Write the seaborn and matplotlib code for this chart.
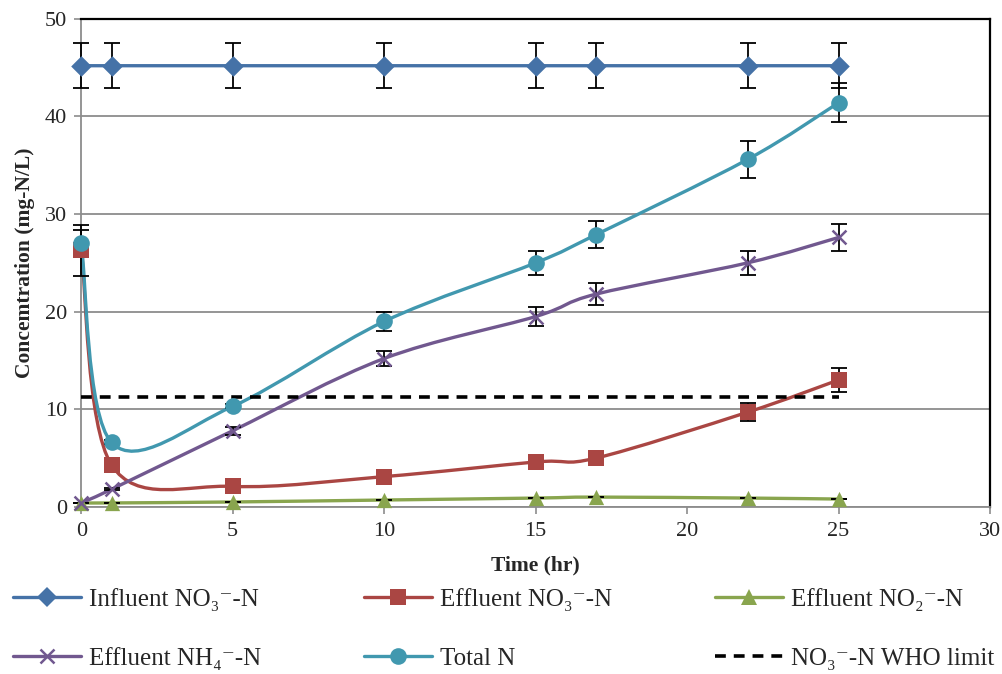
import numpy as np
import matplotlib
matplotlib.use("Agg")
import matplotlib.pyplot as plt
from matplotlib.path import Path
from matplotlib.patches import PathPatch
from matplotlib.lines import Line2D
import seaborn as sns

# data
time_hr = [0, 1, 5, 10, 15, 17, 22, 25]
influent_no3 = [45.2, 45.2, 45.2, 45.2, 45.2, 45.2, 45.2, 45.2]
influent_no3_err = [2.3, 2.3, 2.3, 2.3, 2.3, 2.3, 2.3, 2.3]
effluent_no3 = [26.3, 4.3, 2.1, 3.1, 4.6, 5.0, 9.7, 13.0]
effluent_no3_err = [2.6, 0.2, 0.2, 0.2, 0.2, 0.2, 0.95, 1.25]
effluent_no2 = [0.4, 0.4, 0.5, 0.7, 0.9, 1.0, 0.9, 0.8]
effluent_no2_err = [0, 0, 0, 0, 0, 0, 0, 0]
effluent_nh4 = [0.4, 1.8, 7.8, 15.2, 19.5, 21.8, 25.0, 27.6]
effluent_nh4_err = [0, 0.1, 0.4, 0.8, 1.0, 1.1, 1.2, 1.4]
total_n = [27.0, 6.6, 10.3, 19.0, 25.0, 27.9, 35.6, 41.4]
total_n_err = [1.4, 0.2, 0.2, 0.95, 1.2, 1.4, 1.9, 2.0]
who_limit = 11.3
who_x = [0, 25]

labels = ["Influent NO\u2083\u207b-N", "Effluent NO\u2083\u207b-N", "Effluent NO\u2082\u207b-N",
          "Effluent NH\u2084\u207b-N", "Total N", "NO\u2083\u207b-N WHO limit"]
colors = ["#4572A7", "#AA4643", "#89A54E", "#71588F", "#4198AF"]
markers = ["D", "s", "^", "x", "o"]
msizes = [10.5, 11, 11, 10, 12]

sns.set_style("white")
plt.rcParams["font.family"] = ["Liberation Serif", "DejaVu Serif"]


def smooth_path(x, y):
    """ Excel style smoothed line (Catmull-Rom as cubic Bezier) """
    pts = np.column_stack([x, y]).astype(float)
    n = len(pts)
    verts = [pts[0]]
    codes = [Path.MOVETO]
    for i in range(n - 1):
        p0 = pts[max(i - 1, 0)]
        p1 = pts[i]
        p2 = pts[i + 1]
        p3 = pts[min(i + 2, n - 1)]
        verts += [p1 + (p2 - p0) / 6, p2 - (p3 - p1) / 6, p2]
        codes += [Path.CURVE4] * 3
    return Path(verts, codes)


fig = plt.figure(figsize=(10.03, 6.74), dpi=100)
ax = fig.add_axes([0.081, 0.248, 0.906, 0.724])

series = [influent_no3, effluent_no3, effluent_no2, effluent_nh4, total_n]
errors = [influent_no3_err, effluent_no3_err, effluent_no2_err, effluent_nh4_err, total_n_err]

for k, (vals, errs) in enumerate(zip(series, errors)):
    ax.add_patch(PathPatch(smooth_path(time_hr, vals), facecolor="none",
                           edgecolor=colors[k], lw=2.4, zorder=3, capstyle="round"))
    eb = ax.errorbar(time_hr, vals, yerr=errs, fmt="none", ecolor="black",
                     elinewidth=1.3, capsize=5.5, capthick=1.3, zorder=4)
    for art in eb.lines[1] + eb.lines[2]:
        art.set_clip_on(False)
    if markers[k] == "x":
        sns.scatterplot(x=time_hr, y=vals, ax=ax, marker="x", s=msizes[k] ** 2,
                        color=colors[k], linewidth=1.8, zorder=5, legend=False, clip_on=False)
    else:
        sns.scatterplot(x=time_hr, y=vals, ax=ax, marker=markers[k], s=msizes[k] ** 2,
                        color=colors[k], edgecolor=colors[k], linewidth=0, zorder=5,
                        legend=False, clip_on=False)

sns.lineplot(x=who_x, y=[who_limit, who_limit], ax=ax, color="black", lw=2.6,
             linestyle=(0, (3, 2.2)), zorder=4)

ax.set_xlim(0, 30)
ax.set_ylim(0, 50)
ax.set_xticks(range(0, 31, 5))
ax.set_yticks(range(0, 51, 10))
ax.yaxis.grid(True, color="#8c8c8c", lw=1.3)
ax.set_axisbelow(True)
for side in ["left", "bottom"]:
    ax.spines[side].set_color("#8c8c8c")
    ax.spines[side].set_linewidth(1.3)
for side in ["top", "right"]:
    ax.spines[side].set_color("black")
    ax.spines[side].set_linewidth(1.6)
ax.tick_params(axis="both", direction="out", length=5, width=1.2, color="#8c8c8c",
               labelsize=16, bottom=True, left=True)
ax.tick_params(axis="x", pad=6)
ax.tick_params(axis="y", pad=5)
ax.set_xlabel("Time (hr)", fontsize=15.5, fontweight="bold", labelpad=10)
ax.set_ylabel("Concemtration (mg-N/L)", fontsize=15.5, fontweight="bold", labelpad=7)

handles = [Line2D([], [], color=colors[k], lw=2.4, marker=markers[k],
                  markersize=msizes[k], markeredgewidth=1.8 if markers[k] == "x" else 0)
           for k in range(5)]
handles.append(Line2D([], [], color="black", lw=2.6, linestyle=(0, (3, 2.2))))
order = [0, 3, 1, 4, 2, 5]
fig.legend([handles[i] for i in order], [labels[i] for i in order],
           loc="upper left", bbox_to_anchor=(-0.002, 0.15), ncol=3, frameon=False,
           fontsize=18, handlelength=2.72, handletextpad=0.33, columnspacing=4.1,
           labelspacing=1.45, borderaxespad=0.2)

fig.savefig("out.png", dpi=100)
plt.close(fig)
